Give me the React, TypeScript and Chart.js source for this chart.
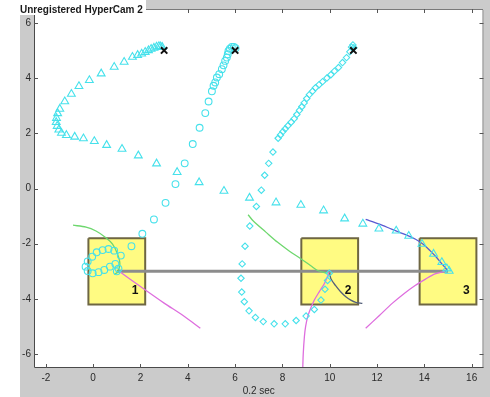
import { useEffect, useRef } from "react";
import { Chart, registerables } from "chart.js";

Chart.register(...registerables);

// Axis ticks
const xTicks = [-2, 0, 2, 4, 6, 8, 10, 12, 14, 16];
const yTicks = [-6, -4, -2, 0, 2, 4, 6];

// Starting positions of the three tracked objects
const startPoints: [number, number][] = [
  [3, 5],
  [6, 5],
  [11, 5],
];

// Track drawn with triangles (starts at the first cross)
const trackTriangles: [number, number][] = [
  [2.92, 5.12], [2.85, 5.14], [2.78, 5.15], [2.68, 5.13], [2.57, 5.09], [2.45, 5.05],
  [2.34, 5.0], [2.2, 4.94], [2.05, 4.88], [1.88, 4.83], [1.66, 4.76], [1.31, 4.58],
  [0.89, 4.4], [0.34, 4.16], [-0.16, 3.92], [-0.6, 3.7], [-0.92, 3.42], [-1.2, 3.15],
  [-1.41, 2.88], [-1.5, 2.72], [-1.55, 2.55], [-1.56, 2.4], [-1.52, 2.26], [-1.45, 2.13],
  [-1.34, 2.01], [-1.13, 1.93], [-0.78, 1.87], [-0.41, 1.81], [0.05, 1.71], [0.57, 1.57],
  [1.22, 1.43], [1.91, 1.19], [2.68, 0.9], [3.55, 0.59], [4.48, 0.22], [5.53, -0.09],
  [6.61, -0.34], [7.73, -0.51], [8.78, -0.6], [9.74, -0.8], [10.63, -1.09], [11.4, -1.28],
  [12.08, -1.46], [12.81, -1.53], [13.34, -1.72], [13.9, -2.01], [14.39, -2.37],
  [14.74, -2.67], [14.95, -2.9], [15.05, -2.99],
];

// Track drawn with circles (starts at the second cross)
const trackCircles: [number, number][] = [
  [6.02, 5.08], [5.95, 5.13], [5.86, 5.13], [5.78, 5.06], [5.72, 4.98], [5.69, 4.86],
  [5.65, 4.74], [5.58, 4.62], [5.51, 4.46], [5.44, 4.32], [5.33, 4.14], [5.23, 4.02],
  [5.16, 3.84], [5.09, 3.72], [5.02, 3.52], [4.88, 3.15], [4.74, 2.73], [4.5, 2.2],
  [4.21, 1.61], [3.87, 0.91], [3.48, 0.16], [3.06, -0.52], [2.57, -1.12], [2.08, -1.64],
  [1.62, -2.09], [1.17, -2.43], [0.89, -2.25], [0.65, -2.19], [0.4, -2.23], [0.15, -2.31],
  [-0.04, -2.47], [-0.23, -2.64], [-0.32, -2.83], [-0.23, -2.99], [-0.02, -3.07],
  [0.23, -3.03], [0.47, -2.95], [0.71, -2.83], [0.94, -2.73], [1.07, -2.9], [1.0, -3.0],
];

// Track drawn with diamonds (starts at the third cross)
const trackDiamonds: [number, number][] = [
  [11.02, 5.1], [10.98, 5.2], [10.92, 5.12], [10.85, 4.95], [10.71, 4.74], [10.54, 4.56],
  [10.37, 4.38], [10.2, 4.25], [10.05, 4.12], [9.88, 4.0], [9.7, 3.87], [9.55, 3.76],
  [9.4, 3.65], [9.27, 3.52], [9.14, 3.4], [9.03, 3.26], [8.92, 3.1], [8.82, 2.96],
  [8.72, 2.83], [8.61, 2.68], [8.5, 2.53], [8.37, 2.4], [8.23, 2.27], [8.12, 2.16],
  [8.02, 2.06], [7.92, 1.94], [7.82, 1.82], [7.6, 1.32], [7.42, 0.91], [7.25, 0.48],
  [7.11, -0.06], [6.9, -0.65], [6.62, -1.36], [6.42, -2.09], [6.3, -2.73], [6.25, -3.25],
  [6.28, -3.75], [6.39, -4.1], [6.59, -4.43], [6.86, -4.67], [7.19, -4.82], [7.65, -4.9],
  [8.12, -4.9], [8.58, -4.78], [9.0, -4.62], [9.35, -4.38], [9.63, -4.04], [9.8, -3.65],
  [9.91, -3.33], [9.98, -3.07],
];

// Target regions
const boxCenterX = [1, 10, 15];
const boxCenterY = -3;
const boxHalfSize = 1.2;
const boxLabels = ["1", "2", "3"];

// Link between the first and last target
const linkX = [1, 15];
const linkY = [-3, -3];

// Guidance curves around each target
const greenCurve1: [number, number][] = [
  [-0.85, -1.33], [-0.3, -1.4], [0.12, -1.54], [0.54, -1.78], [0.82, -2.01],
  [1.03, -2.37], [1.13, -2.73], [1.03, -3.03], [0.89, -3.11],
];
const magentaCurve1: [number, number][] = [
  [1.1, -3.0], [2.0, -3.55], [3.0, -4.15], [3.8, -4.6], [4.53, -5.06],
];
const greenCurve2: [number, number][] = [
  [6.55, -0.95], [6.77, -1.18], [7.3, -1.58], [7.8, -1.95], [8.3, -2.27],
  [8.79, -2.55], [9.2, -2.8], [9.49, -2.97], [9.91, -3.07],
];
const slateCurve2: [number, number][] = [
  [10.0, -3.05], [10.05, -3.27], [10.25, -3.52], [10.47, -3.75], [10.68, -3.92],
  [10.89, -4.04], [11.1, -4.12], [11.38, -4.16],
];
const magentaCurve2: [number, number][] = [
  [9.98, -3.03], [9.9, -3.2], [9.77, -3.45], [9.55, -3.75], [9.35, -4.04],
  [9.2, -4.33], [9.07, -4.64], [8.98, -5.0], [8.93, -5.36], [8.88, -6.0], [8.86, -6.5],
];
const blueCurve3: [number, number][] = [
  [11.52, -1.12], [12.1, -1.29], [12.64, -1.48], [13.15, -1.65], [13.61, -1.83],
  [13.95, -2.02], [14.24, -2.25], [14.5, -2.48], [14.74, -2.73], [14.99, -2.97],
];
const magentaCurve3: [number, number][] = [
  [11.52, -5.06], [12.1, -4.6], [12.64, -4.16], [13.15, -3.8], [13.61, -3.51],
  [14.05, -3.28], [14.45, -3.09], [14.87, -3.0],
];

const FONT = "Arial, 'Liberation Sans', Helvetica, sans-serif";
const FIG_GREY = "#cbcbcb";
const CYAN = "rgb(70,225,235)";
const GREEN = "rgb(110,215,110)";
const MAGENTA = "rgb(222,110,222)";

const pts = (pairs: [number, number][]) => pairs.map(([x, y]) => ({ x, y }));

const boxPolygon = (cx: number, cy: number, h: number) => [
  { x: cx - h, y: cy + h },
  { x: cx + h, y: cy + h },
  { x: cx + h, y: cy - h },
  { x: cx - h, y: cy - h },
  { x: cx - h, y: cy + h },
];

const curve = (pairs: [number, number][], color: string, width = 1.3) => ({
  data: pts(pairs),
  showLine: true,
  borderColor: color,
  borderWidth: width,
  pointRadius: 0,
  tension: 0.3,
  fill: false,
  order: 5,
});

const markers = (pairs: [number, number][], style: string, radius: number) => ({
  data: pts(pairs),
  showLine: false,
  pointStyle: style,
  pointRadius: radius,
  pointBorderWidth: 1.1,
  pointBorderColor: CYAN,
  pointBackgroundColor: "rgba(0,0,0,0)",
  order: 2,
});

const figurePlugin = {
  id: "figureFrame",
  beforeDraw(chart: any) {
    const { ctx, chartArea: a, width, height } = chart;
    ctx.save();
    ctx.fillStyle = "#ffffff";
    ctx.fillRect(0, 0, width, height);
    ctx.fillStyle = FIG_GREY;
    ctx.fillRect(20, 0, width - 20, height);
    ctx.fillStyle = "#ffffff";
    ctx.fillRect(a.left, a.top, a.right - a.left, a.bottom - a.top);
    ctx.restore();
  },
  afterDatasetsDraw(chart: any) {
    const { ctx, chartArea: a, scales } = chart;
    const sx = scales.x;
    const sy = scales.y;
    ctx.save();
    // target numbers in the lower-right corner of each box
    ctx.fillStyle = "#111";
    ctx.font = `bold 12px ${FONT}`;
    ctx.textAlign = "center";
    ctx.textBaseline = "middle";
    boxCenterX.forEach((cx, i) => {
      const right = sx.getPixelForValue(cx + boxHalfSize);
      const bottom = sy.getPixelForValue(boxCenterY - boxHalfSize);
      ctx.fillText(boxLabels[i], right - 10, bottom - 14);
    });
    // axes box
    ctx.lineWidth = 1;
    ctx.strokeStyle = "#7a7a7a";
    ctx.beginPath();
    ctx.moveTo(a.left, a.top + 0.5);
    ctx.lineTo(a.right - 0.5, a.top + 0.5);
    ctx.lineTo(a.right - 0.5, a.bottom);
    ctx.stroke();
    ctx.strokeStyle = "#4a4a4a";
    ctx.beginPath();
    ctx.moveTo(a.left + 0.5, a.top);
    ctx.lineTo(a.left + 0.5, a.bottom - 0.5);
    ctx.lineTo(a.right, a.bottom - 0.5);
    ctx.stroke();
    // inward tick marks on all four sides
    ctx.strokeStyle = "#555";
    ctx.beginPath();
    sx.ticks.forEach((t: any) => {
      const p = Math.round(sx.getPixelForValue(t.value)) + 0.5;
      ctx.moveTo(p, a.bottom);
      ctx.lineTo(p, a.bottom - 4);
      ctx.moveTo(p, a.top);
      ctx.lineTo(p, a.top + 4);
    });
    sy.ticks.forEach((t: any) => {
      const p = Math.round(sy.getPixelForValue(t.value)) + 0.5;
      ctx.moveTo(a.left, p);
      ctx.lineTo(a.left + 4, p);
      ctx.moveTo(a.right, p);
      ctx.lineTo(a.right - 4, p);
    });
    ctx.stroke();
    ctx.restore();
  },
  afterDraw(chart: any) {
    const { ctx } = chart;
    ctx.save();
    ctx.fillStyle = "#ffffff";
    ctx.fillRect(0, 0, 146, 15);
    ctx.fillStyle = "#1a1a1a";
    ctx.font = `bold 10px ${FONT}`;
    ctx.textAlign = "left";
    ctx.textBaseline = "alphabetic";
    ctx.fillText("Unregistered HyperCam 2", 20, 13);
    ctx.restore();
  },
};

export default function App() {
  const canvasRef = useRef<HTMLCanvasElement | null>(null);

  useEffect(() => {
    const canvas = canvasRef.current;
    if (!canvas) return;

    const datasets: any[] = [];

    boxCenterX.forEach((cx) => {
      datasets.push({
        data: boxPolygon(cx, boxCenterY, boxHalfSize),
        showLine: true,
        fill: "shape",
        backgroundColor: "#fffb82",
        borderColor: "#6e6642",
        borderWidth: 2,
        pointRadius: 0,
        tension: 0,
        order: 20,
      });
    });

    datasets.push({
      data: linkX.map((x, i) => ({ x, y: linkY[i] })),
      showLine: true,
      borderColor: "#8c8c8c",
      borderWidth: 3,
      pointRadius: 0,
      fill: false,
      order: 15,
    });

    datasets.push(curve(greenCurve1, GREEN));
    datasets.push(curve(magentaCurve1, MAGENTA));
    datasets.push(curve(greenCurve2, GREEN));
    datasets.push(curve(slateCurve2, "#55607a"));
    datasets.push(curve(magentaCurve2, MAGENTA));
    datasets.push(curve(blueCurve3, "#5a5ad2"));
    datasets.push(curve(magentaCurve3, MAGENTA));

    datasets.push(markers(trackTriangles, "triangle", 4.5));
    datasets.push(markers(trackCircles, "circle", 3.4));
    datasets.push(markers(trackDiamonds, "rectRot", 3.2));

    datasets.push({
      data: pts(startPoints),
      showLine: false,
      pointStyle: "crossRot",
      pointRadius: 4.5,
      pointBorderWidth: 2,
      pointBorderColor: "#111",
      order: 0,
    });

    const chart = new Chart(canvas, {
      type: "scatter",
      data: { datasets },
      options: {
        animation: false,
        responsive: false,
        maintainAspectRatio: false,
        events: [],
        layout: { padding: { left: 20, top: 6, right: 3, bottom: 0 } },
        plugins: {
          legend: { display: false },
          tooltip: { enabled: false },
        },
        scales: {
          x: {
            type: "linear",
            min: -2.5,
            max: 16.5,
            afterBuildTicks: (s: any) => {
              s.ticks = xTicks.map((v) => ({ value: v }));
            },
            afterFit: (s: any) => {
              s.height = 29;
            },
            grid: { display: false, drawTicks: false },
            border: { display: false },
            ticks: {
              font: { family: FONT, size: 10 },
              color: "#2a2a2a",
              padding: 4,
              maxRotation: 0,
              autoSkip: false,
            },
            title: {
              display: true,
              text: "0.2 sec",
              font: { family: FONT, size: 10 },
              color: "#2a2a2a",
              padding: { top: 0, bottom: 0 },
            },
          },
          y: {
            type: "linear",
            min: -6.5,
            max: 6.5,
            afterBuildTicks: (s: any) => {
              s.ticks = yTicks.map((v) => ({ value: v }));
            },
            afterFit: (s: any) => {
              s.width = 14;
            },
            grid: { display: false, drawTicks: false },
            border: { display: false },
            ticks: {
              font: { family: FONT, size: 10 },
              color: "#2a2a2a",
              padding: 3,
              autoSkip: false,
            },
          },
        },
      } as any,
      plugins: [figurePlugin],
    });

    return () => chart.destroy();
  }, []);

  return (
    <div style={{ position: "absolute", left: 0, top: 0, width: 490, height: 397 }}>
      <canvas ref={canvasRef} width={490} height={397} />
    </div>
  );
}
